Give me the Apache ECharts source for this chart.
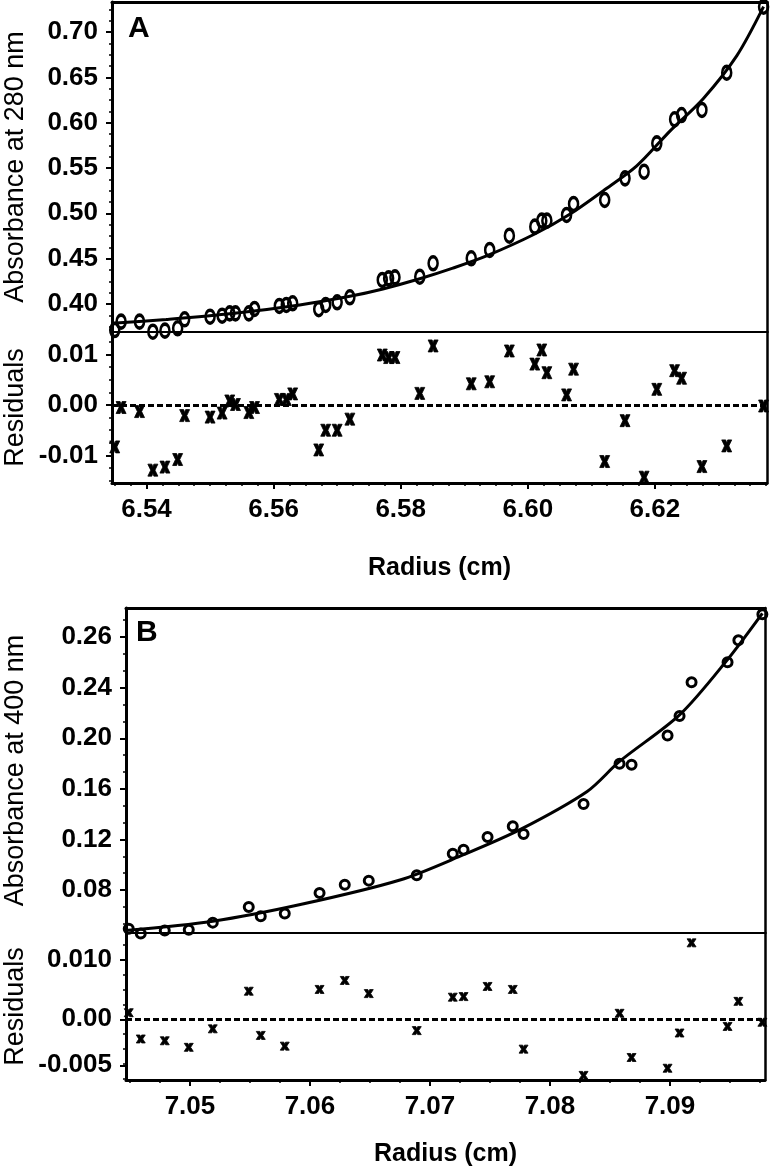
<!DOCTYPE html>
<html><head><meta charset="utf-8">
<style>html,body{margin:0;padding:0;background:#fff}#c{width:770px;height:1172px}</style>
<script src="https://cdn.jsdelivr.net/npm/echarts@6/dist/echarts.min.js"></script>
</head><body><div id="c"></div>
<script>
// ---------- Panel A data ----------
const radiusA = [6.5350, 6.5360, 6.5389, 6.5410, 6.5429, 6.5449, 6.5460, 6.5500, 6.5519, 6.5531,
  6.5540, 6.5561, 6.5570, 6.5609, 6.5620, 6.5630, 6.5671, 6.5682, 6.5700, 6.5720,
  6.5771, 6.5781, 6.5791, 6.5830, 6.5851, 6.5911, 6.5940, 6.5971, 6.6011, 6.6022,
  6.6030, 6.6061, 6.6072, 6.6121, 6.6153, 6.6183, 6.6203, 6.6231, 6.6242, 6.6274,
  6.6313, 6.6371];
const absorbanceA = [0.3713, 0.3805, 0.3805, 0.3694, 0.3706, 0.3732, 0.3831, 0.3860, 0.3871, 0.3897,
  0.3897, 0.3897, 0.3945, 0.3978, 0.3989, 0.4008, 0.3942, 0.3989, 0.4019, 0.4074,
  0.4265, 0.4283, 0.4294, 0.4301, 0.4449, 0.4504, 0.4596, 0.4753, 0.4853, 0.4919,
  0.4919, 0.4982, 0.5103, 0.5147, 0.5386, 0.5459, 0.5772, 0.6037, 0.6084, 0.6140,
  0.6551, 0.7279];
const residualsA = [-0.0083, -0.0005, -0.0013, -0.0129, -0.0123, -0.0108, -0.0021, -0.0024, -0.0016, 0.0008,
  0.0001, -0.0015, -0.0005, 0.0011, 0.0011, 0.0022, -0.0089, -0.0050, -0.0050, -0.0028,
  0.0099, 0.0094, 0.0094, 0.0023, 0.0117, 0.0042, 0.0046, 0.0107, 0.0081, 0.0109,
  0.0064, 0.0020, 0.0071, -0.0112, -0.0031, -0.0143, 0.0031, 0.0068, 0.0053, -0.0122,
  -0.0081, -0.0002];
const fitRadiusA = [6.5346, 6.5431, 6.5535, 6.5641, 6.5720, 6.5772, 6.5830, 6.5882, 6.5935,
  6.6011, 6.6066, 6.6119, 6.6171, 6.6224, 6.6276, 6.6329, 6.6371];
const fitAbsorbanceA = [0.3787, 0.3830, 0.3895, 0.3990, 0.4085, 0.4166, 0.4278, 0.4395, 0.4530,
  0.4772, 0.4990, 0.5250, 0.5520, 0.5910, 0.6265, 0.6740, 0.7280];

// ---------- Panel B data ----------
const radiusB = [7.0449, 7.0459, 7.0479, 7.0499, 7.0519, 7.0549, 7.0559, 7.0579, 7.0608, 7.0629,
  7.0649, 7.0689, 7.0719, 7.0728, 7.0748, 7.0769, 7.0778, 7.0828, 7.0858, 7.0868,
  7.0898, 7.0908, 7.0918, 7.0948, 7.0957, 7.0977];
const absorbanceB = [0.0494, 0.0457, 0.0480, 0.0486, 0.0543, 0.0667, 0.0593, 0.0615, 0.0778, 0.0843,
  0.0875, 0.0917, 0.1088, 0.1120, 0.1220, 0.1304, 0.1244, 0.1480, 0.1798, 0.1791,
  0.2022, 0.2177, 0.2443, 0.2601, 0.2775, 0.2980];
const residualsB = [0.0011, -0.0033, -0.0036, -0.0047, -0.0016, 0.0047, -0.0027, -0.0045, 0.0050, 0.0065,
  0.0043, -0.0019, 0.0037, 0.0038, 0.0055, 0.0050, -0.0050, -0.0094, 0.0010, -0.0064,
  -0.0082, -0.0023, 0.0128, -0.0012, 0.0030, -0.0005];
const fitRadiusB = [7.0446, 7.0519, 7.0592, 7.0675, 7.0728, 7.0775, 7.0831, 7.0858, 7.0908, 7.0947, 7.0977];
const fitAbsorbanceB = [0.0480, 0.0554, 0.0686, 0.0880, 0.1080, 0.1278, 0.1580, 0.1817, 0.2185, 0.2611, 0.2988];

// ---------- Tick labels ----------
const xTicksA = [6.54, 6.56, 6.58, 6.60, 6.62];
const xTickLabelsA = ['6.54', '6.56', '6.58', '6.60', '6.62'];
const yTicksA = [0.40, 0.45, 0.50, 0.55, 0.60, 0.65, 0.70];
const yTickLabelsA = ['0.40', '0.45', '0.50', '0.55', '0.60', '0.65', '0.70'];
const resTicksA = [-0.01, 0, 0.01];
const resTickLabelsA = ['-0.01', '0.00', '0.01'];

const xTicksB = [7.05, 7.06, 7.07, 7.08, 7.09];
const xTickLabelsB = ['7.05', '7.06', '7.07', '7.08', '7.09'];
const yTicksB = [0.08, 0.12, 0.16, 0.20, 0.24, 0.28];
const yTickLabelsB = ['0.08', '0.12', '0.16', '0.20', '0.24', '0.26'];
const resTicksB = [-0.0077, 0, 0.01];
const resTickLabelsB = ['-0.005', '0.00', '0.010'];

const zeroLine = 0;

// ---------- Styling helpers ----------
const FONT = '"Liberation Sans", Arial, Helvetica, sans-serif';
const K = '#000';
function steps(from, step, count) { const a = []; for (let i = 0; i < count; i++) a.push(+(from + i * step).toFixed(6)); return a; }
function lab(v, ticks, labels) { const i = ticks.findIndex(t => Math.abs(t - v) < 1e-7); return i < 0 ? '' : labels[i]; }

function base(type, gridIndex, min, max, position) {
  return { type: 'value', gridIndex, min, max, position, scale: true, silent: true,
    splitLine: { show: false }, axisLine: { show: false, onZero: false },
    axisTick: { show: false }, axisLabel: { show: false }, nameMoveOverlap: false };
}
function lineAxis(gridIndex, min, max, position, width) {
  const a = base('value', gridIndex, min, max, position);
  a.axisLine = { show: true, onZero: false, lineStyle: { color: K, width } };
  return a;
}
function majorAxis(gridIndex, min, max, position, ticks, labels, name, nameGap, isX) {
  const a = lineAxis(gridIndex, min, max, position, 3);
  a.axisTick = { show: true, inside: false, length: 6, customValues: ticks, lineStyle: { color: K, width: 2 } };
  a.axisLabel = { show: true, customValues: ticks, margin: 14, color: K, fontFamily: FONT,
    fontWeight: 'bold', fontSize: 26, formatter: v => lab(v, ticks, labels) };
  if (name) {
    a.name = name; a.nameLocation = 'middle'; a.nameGap = nameGap;
    a.nameTextStyle = { fontFamily: FONT, color: K, fontSize: isX ? 25 : 27, fontWeight: isX ? 'bold' : 'normal' };
  }
  return a;
}
function minorAxis(gridIndex, min, max, position, ticks) {
  const a = base('value', gridIndex, min, max, position);
  a.axisTick = { show: true, inside: false, length: 3, customValues: ticks, lineStyle: { color: K, width: 1.5 } };
  return a;
}

// ranges
const AX = [6.53457, 6.63764], AY = [0.3691, 0.7331], AR = [-0.01545, 0.01446];
const BX = [7.04467, 7.09792], BY = [0.0461, 0.3030], BR = [-0.01017, 0.01445];

const ovalPath = 'path://M5,0 C7.76,0 10,2.24 10,5 C10,7.76 7.76,10 5,10 C2.24,10 0,7.76 0,5 C0,2.24 2.24,0 5,0 Z';
const xPath = 'path://M0,0 L4,0 L5,2.6 L6,0 L10,0 L7.1,5 L10,10 L6,10 L5,7.4 L4,10 L0,10 L2.9,5 Z';

const grid = [
  { left: 112, right: 3, top: 2, height: 330, outerBoundsMode: 'none' },
  { left: 112, right: 3, top: 332, height: 151, outerBoundsMode: 'none' },
  { left: 126, right: 5, top: 608, height: 325, outerBoundsMode: 'none' },
  { left: 126, right: 5, top: 933, height: 147, outerBoundsMode: 'none' }
];

const xAxis = [
  lineAxis(0, AX[0], AX[1], 'bottom', 1.8),
  lineAxis(0, AX[0], AX[1], 'top', 3),
  majorAxis(1, AX[0], AX[1], 'bottom', xTicksA, xTickLabelsA, 'Radius (cm)', 73, true),
  minorAxis(1, AX[0], AX[1], 'bottom', steps(6.535, 0.0025, 42)),
  lineAxis(2, BX[0], BX[1], 'bottom', 1.8),
  lineAxis(2, BX[0], BX[1], 'top', 3),
  majorAxis(3, BX[0], BX[1], 'bottom', xTicksB, xTickLabelsB, 'Radius (cm)', 62, true),
  minorAxis(3, BX[0], BX[1], 'bottom', steps(7.045, 0.0025, 22))
];
const yAxis = [
  majorAxis(0, AY[0], AY[1], 'left', yTicksA, yTickLabelsA, 'Absorbance at 280 nm', 83, false),
  minorAxis(0, AY[0], AY[1], 'left', steps(0.375, 0.0125, 29)),
  lineAxis(0, AY[0], AY[1], 'right', 2.5),
  majorAxis(1, AR[0], AR[1], 'left', resTicksA, resTickLabelsA, 'Residuals', 83, false),
  minorAxis(1, AR[0], AR[1], 'left', steps(-0.015, 0.0025, 12)),
  lineAxis(1, AR[0], AR[1], 'right', 2.5),
  majorAxis(2, BY[0], BY[1], 'left', yTicksB, yTickLabelsB, 'Absorbance at 400 nm', 97, false),
  minorAxis(2, BY[0], BY[1], 'left', steps(0.0533333, 0.04 / 3, 19)),
  lineAxis(2, BY[0], BY[1], 'right', 2.5),
  majorAxis(3, BR[0], BR[1], 'left', resTicksB, resTickLabelsB, 'Residuals', 97, false),
  minorAxis(3, BR[0], BR[1], 'left', steps(-0.01, 0.0025, 10)),
  lineAxis(3, BR[0], BR[1], 'right', 2.5)
];

const pairs = (xs, ys) => xs.map((x, i) => [x, ys[i]]);
const zeroMark = { silent: true, symbol: ['none', 'none'], label: { show: false },
  lineStyle: { color: K, width: 3, type: [6, 3] }, data: [{ yAxis: zeroLine }] };

const series = [
  { type: 'line', xAxisIndex: 0, yAxisIndex: 0, data: pairs(fitRadiusA, fitAbsorbanceA), smooth: 0.3,
    showSymbol: false, lineStyle: { color: K, width: 3 }, clip: false, z: 3 },
  { type: 'scatter', xAxisIndex: 0, yAxisIndex: 0, data: pairs(radiusA, absorbanceA), symbol: ovalPath,
    symbolSize: [9, 13], itemStyle: { color: 'rgba(0,0,0,0)', borderColor: K, borderWidth: 3, opacity: 1 }, clip: false, z: 4 },
  { type: 'scatter', xAxisIndex: 2, yAxisIndex: 3, data: pairs(radiusA, residualsA), symbol: xPath,
    symbolSize: [10, 12], itemStyle: { color: K, borderColor: K, borderWidth: 0.8, opacity: 1 }, clip: false, markLine: zeroMark, z: 4 },
  { type: 'line', xAxisIndex: 4, yAxisIndex: 6, data: pairs(fitRadiusB, fitAbsorbanceB), smooth: 0.3,
    showSymbol: false, lineStyle: { color: K, width: 3 }, clip: false, z: 3 },
  { type: 'scatter', xAxisIndex: 4, yAxisIndex: 6, data: pairs(radiusB, absorbanceB), symbol: ovalPath,
    symbolSize: [9, 9], itemStyle: { color: 'rgba(0,0,0,0)', borderColor: K, borderWidth: 3, opacity: 1 }, clip: false, z: 4 },
  { type: 'scatter', xAxisIndex: 6, yAxisIndex: 9, data: pairs(radiusB, residualsB), symbol: xPath,
    symbolSize: [9, 8], itemStyle: { color: K, borderColor: K, borderWidth: 0.8, opacity: 1 }, clip: false, markLine: zeroMark, z: 4 }
];

const chart = echarts.init(document.getElementById('c'), null, { renderer: 'canvas' });
chart.setOption({
  animation: false,
  backgroundColor: '#fff',
  title: [
    { text: 'A', left: 128, top: 14, padding: 0, textStyle: { fontFamily: FONT, fontWeight: 'bold', fontSize: 30, color: K, lineHeight: 30 } },
    { text: 'B', left: 136, top: 618, padding: 0, textStyle: { fontFamily: FONT, fontWeight: 'bold', fontSize: 30, color: K, lineHeight: 30 } }
  ],
  grid, xAxis, yAxis, series
});
</script></body></html>
